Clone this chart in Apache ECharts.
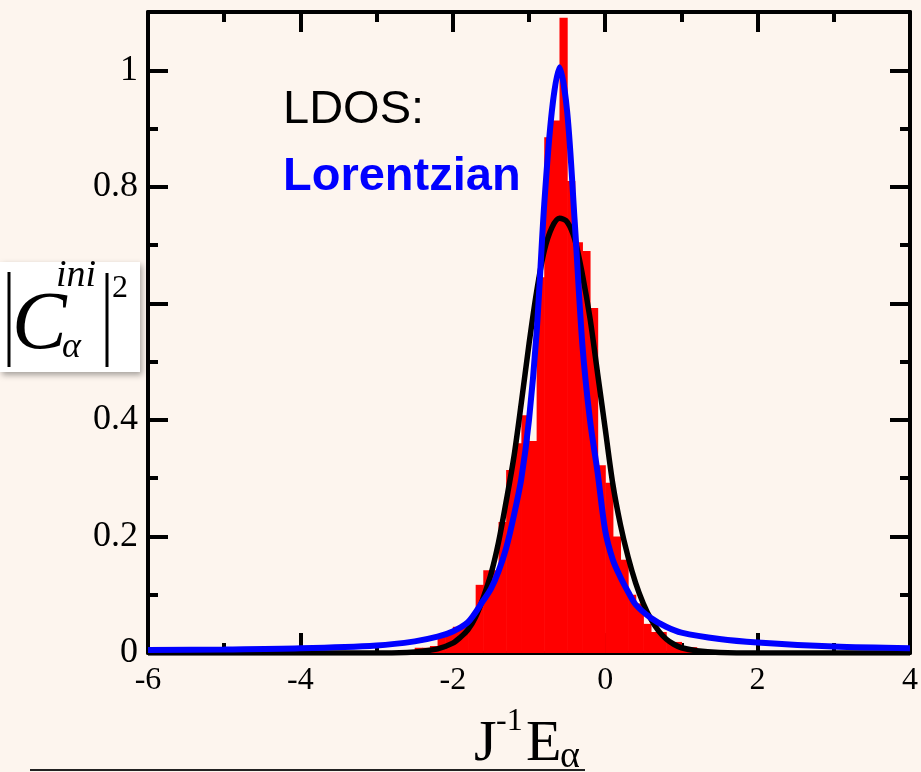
<!DOCTYPE html>
<html>
<head>
<meta charset="utf-8">
<script src="https://cdn.jsdelivr.net/npm/echarts@6/dist/echarts.min.js"></script>
<style>
html,body{margin:0;padding:0;background:#fdf5ee;}
#chart{width:921px;height:772px;}
</style>
</head>
<body>
<div id="chart"></div>
<script>
// Histogram (LDOS): left bin edges and heights, bin width 0.1
var binLeft = [-2.7,-2.6,-2.5,-2.4,-2.3,-2.2,-2.1,-2.0,-1.9,-1.8,-1.7,-1.6,-1.5,-1.4,-1.3,-1.2,-1.1,-1.0,-0.9,-0.8,-0.7,-0.6,-0.5,-0.4,-0.3,-0.2,-0.1,0.0,0.1,0.2,0.3,0.4,0.5,0.6,0.7,0.8,0.9,1.0,1.1,1.2,1.3];
var binHeight = [0.003,0.004,0.009,0.009,0.012,0.031,0.035,0.045,0.05,0.055,0.117,0.142,0.142,0.225,0.314,0.36,0.408,0.364,0.645,0.885,0.914,1.09,0.81,0.705,0.69,0.592,0.322,0.292,0.2,0.16,0.1,0.085,0.05,0.036,0.036,0.019,0.019,0.01,0.01,0.005,0.003];
var binWidth = 0.1;

// Gaussian fit (black)
var gaussX = [-6,-3,-2.6,-2.4,-2.2,-2.0,-1.9,-1.8,-1.7,-1.6,-1.5,-1.4,-1.3,-1.2,-1.1,-1.0,-0.9,-0.8,-0.7,-0.6,-0.5,-0.4,-0.3,-0.2,-0.1,0.0,0.1,0.2,0.3,0.4,0.5,0.6,0.7,0.8,0.9,1.0,1.2,1.5,2.0,4];
var gaussY = [0,0,0.001,0.003,0.007,0.017,0.027,0.04,0.062,0.095,0.135,0.19,0.26,0.335,0.43,0.53,0.62,0.69,0.73,0.746,0.74,0.71,0.65,0.575,0.48,0.385,0.29,0.22,0.165,0.12,0.085,0.058,0.038,0.024,0.015,0.009,0.004,0.001,0,0];

// Lorentzian fit (blue)
var lorX = [-6,-5,-4,-3,-2.5,-2.2,-2.0,-1.8,-1.6,-1.5,-1.4,-1.3,-1.2,-1.1,-1.0,-0.9,-0.8,-0.7,-0.6,-0.5,-0.4,-0.3,-0.2,-0.1,0.0,0.1,0.2,0.3,0.4,0.6,0.8,1.0,1.5,2,3,4];
var lorY = [0.005,0.006,0.008,0.013,0.02,0.028,0.037,0.053,0.09,0.11,0.14,0.18,0.235,0.3,0.4,0.55,0.77,0.93,1.005,0.93,0.74,0.53,0.4,0.31,0.21,0.16,0.13,0.105,0.083,0.06,0.045,0.035,0.024,0.018,0.011,0.008];

var xTicks = [-6,-4,-2,0,2,4];
var yTicks = [0,0.2,0.4,0.6,0.8,1];

var chart = echarts.init(document.getElementById('chart'), null, {renderer:'canvas'});
var serif = '"Liberation Serif", "Times New Roman", serif';
var sans = '"Liberation Sans", Arial, sans-serif';

var histData = binLeft.map(function(x0,i){ return [x0, x0 + binWidth, binHeight[i]]; });
var gaussData = gaussX.map(function(x,i){ return [x, gaussY[i]]; });
var lorData = lorX.map(function(x,i){ return [x, lorY[i]]; });

var axisCommon = {
  axisLine:{show:true, onZero:false, lineStyle:{color:'#000', width:4}},
  axisTick:{show:true, inside:true, length:20, lineStyle:{color:'#000', width:4}},
  minorTick:{show:true, splitNumber:2, length:10, lineStyle:{color:'#000', width:4}},
  splitLine:{show:false},
  minorSplitLine:{show:false}
};

var option = {
  backgroundColor:'#fdf5ee',
  animation:false,
  grid:{left:148, right:8, top:12, bottom:119},
  xAxis:[
    Object.assign({type:'value', position:'bottom', min:-6, max:4, interval:2,
      axisLabel:{show:true, color:'#000', fontFamily:serif, fontSize:32, margin:12,
        formatter:function(v){ return xTicks.indexOf(v) >= 0 ? String(v) : ''; }}}, axisCommon),
    Object.assign({type:'value', position:'top', min:-6, max:4, interval:2, axisLabel:{show:false}}, axisCommon)
  ],
  yAxis:[
    Object.assign({type:'value', position:'left', min:0, max:1.1, interval:0.2,
      axisLabel:{show:true, color:'#000', fontFamily:serif, fontSize:36, margin:10, showMaxLabel:false,
        formatter:function(v){ var r = Math.round(v*10)/10; return yTicks.indexOf(r) >= 0 ? String(r) : ''; }}}, axisCommon),
    Object.assign({type:'value', position:'right', min:0, max:1.1, interval:0.2, axisLabel:{show:false}}, axisCommon)
  ],
  series:[
    {
      type:'custom',
      xAxisIndex:0, yAxisIndex:0,
      data:histData,
      z:1,
      renderItem:function(params, api){
        var p0 = api.coord([api.value(0), api.value(2)]);
        var p1 = api.coord([api.value(1), 0]);
        return {type:'rect', shape:{x:p0[0], y:p0[1], width:p1[0]-p0[0]+0.6, height:p1[1]-p0[1]},
          style:{fill:'#ff0000'}};
      },
      encode:{x:[0,1], y:2}
    },
    {
      type:'line', data:gaussData, smooth:0.3, symbol:'none', z:3,
      lineStyle:{color:'#000', width:5.5}
    },
    {
      type:'line', data:lorData, smooth:0.3, symbol:'none', z:4,
      lineStyle:{color:'#0000ff', width:6}
    }
  ],
  graphic:[
    {type:'text', z:10, style:{x:283, y:110, text:'LDOS:', font:'47px '+sans, fill:'#000', textAlign:'left', textVerticalAlign:'middle'}},
    {type:'text', z:10, style:{x:283, y:177, text:'Lorentzian', font:'bold 47px '+sans, fill:'#0000ff', textAlign:'left', textVerticalAlign:'middle'}},
    // y-axis label box
    {type:'rect', z:10, shape:{x:0, y:262, width:140, height:110},
      style:{fill:'#ffffff', shadowBlur:6, shadowColor:'rgba(0,0,0,0.35)', shadowOffsetX:2, shadowOffsetY:3}},
    {type:'line', z:11, shape:{x1:9, y1:272, x2:9, y2:367}, style:{stroke:'#000', lineWidth:3}},
    {type:'line', z:11, shape:{x1:107, y1:273, x2:107, y2:367}, style:{stroke:'#000', lineWidth:3}},
    {type:'text', z:11, style:{x:12, y:326, text:'C', font:'italic 82px '+serif, fill:'#000', textAlign:'left', textVerticalAlign:'middle'}},
    {type:'text', z:11, style:{x:56, y:276, text:'ini', font:'italic 38px '+serif, fill:'#000', textAlign:'left', textVerticalAlign:'middle'}},
    {type:'text', z:11, style:{x:62, y:348, text:'α', font:'italic 36px '+serif, fill:'#000', textAlign:'left', textVerticalAlign:'middle'}},
    {type:'text', z:11, style:{x:112, y:289, text:'2', font:'32px '+serif, fill:'#000', textAlign:'left', textVerticalAlign:'middle'}},
    // x-axis label
    {type:'text', z:11, style:{x:474, y:745, text:'J', font:'58px '+serif, fill:'#000', textAlign:'left', textVerticalAlign:'middle'}},
    {type:'text', z:11, style:{x:496, y:722, text:'-1', font:'32px '+serif, fill:'#000', textAlign:'left', textVerticalAlign:'middle'}},
    {type:'text', z:11, style:{x:526, y:745, text:'E', font:'58px '+serif, fill:'#000', textAlign:'left', textVerticalAlign:'middle'}},
    {type:'text', z:11, style:{x:560, y:757, text:'α', font:'38px '+serif, fill:'#000', textAlign:'left', textVerticalAlign:'middle'}},
    {type:'line', z:9, shape:{x1:30, y1:770, x2:585, y2:770}, style:{stroke:'#222', lineWidth:2}}
  ]
};
chart.setOption(option);
</script>
</body>
</html>
